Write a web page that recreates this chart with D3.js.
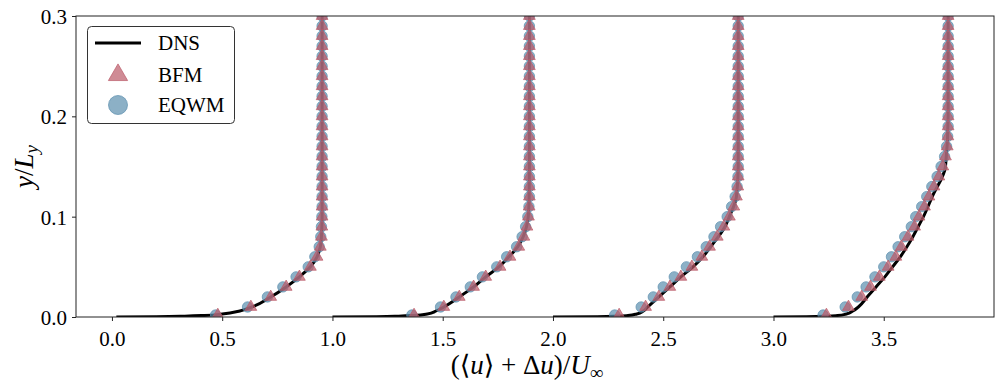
<!DOCTYPE html>
<html>
<head>
<meta charset="utf-8">
<script src="https://cdn.jsdelivr.net/npm/d3@7"></script>
<style>
  body { margin: 0; background: #fff; }
  svg text { font-family: "Liberation Serif", "DejaVu Serif", serif; fill: #000; }
</style>
</head>
<body>
<svg id="chart"></svg>
<script>
const width = 997;
const height = 386;

// x-axis ticks and labels
const xTicks = [0.0, 0.5, 1.0, 1.5, 2.0, 2.5, 3.0, 3.5];
const yTicks = [0.0, 0.1, 0.2, 0.3];

// wall-normal positions of DNS samples
const dnsY = [0, 0.0003, 0.0008, 0.0015, 0.003, 0.006, 0.01, 0.02, 0.03, 0.04, 0.05,
              0.06, 0.07, 0.08, 0.09, 0.10, 0.12, 0.15, 0.20, 0.25, 0.30];
// DNS profiles (already shifted by delta u = 0, 1, 2, 3)
const dns1 = [0.02, 0.20, 0.33, 0.42, 0.50, 0.58, 0.635, 0.72, 0.79, 0.85, 0.90,
              0.93, 0.945, 0.95, 0.952, 0.953, 0.953, 0.953, 0.953, 0.953, 0.953];
const dns2 = [1.00, 1.20, 1.30, 1.37, 1.43, 1.47, 1.505, 1.575, 1.64, 1.695, 1.755,
              1.80, 1.84, 1.865, 1.88, 1.888, 1.892, 1.893, 1.893, 1.893, 1.893];
const dns3 = [2.00, 2.20, 2.29, 2.34, 2.38, 2.41, 2.43, 2.48, 2.53, 2.58, 2.635,
              2.68, 2.715, 2.75, 2.78, 2.80, 2.832, 2.84, 2.84, 2.84, 2.84];
const dns4 = [3.00, 3.15, 3.24, 3.29, 3.33, 3.36, 3.385, 3.425, 3.465, 3.505, 3.54,
              3.575, 3.605, 3.632, 3.656, 3.68, 3.72, 3.78, 3.792, 3.792, 3.792];

// LES sample positions
const lesY = [0.002, 0.01, 0.02, 0.03, 0.04, 0.05, 0.06, 0.07, 0.08, 0.09, 0.10,
              0.11, 0.12, 0.13, 0.14, 0.15, 0.16, 0.17, 0.18, 0.19, 0.20,
              0.21, 0.22, 0.23, 0.24, 0.25, 0.26, 0.27, 0.28, 0.29, 0.30];

const bfm1 = [0.48, 0.63, 0.72, 0.79, 0.85, 0.90, 0.93, 0.945, 0.95, 0.952, 0.953,
              0.953, 0.953, 0.953, 0.953, 0.953, 0.953, 0.953, 0.953, 0.953, 0.953,
              0.953, 0.953, 0.953, 0.953, 0.953, 0.953, 0.953, 0.953, 0.953, 0.953];
const eqwm1 = [0.47, 0.615, 0.705, 0.775, 0.835, 0.89, 0.92, 0.94, 0.947, 0.95, 0.952,
               0.953, 0.953, 0.953, 0.953, 0.953, 0.953, 0.953, 0.953, 0.953, 0.953,
               0.953, 0.953, 0.953, 0.953, 0.953, 0.953, 0.953, 0.953, 0.953, 0.953];

const bfm2 = [1.37, 1.505, 1.575, 1.64, 1.695, 1.76, 1.805, 1.845, 1.868, 1.882, 1.889,
              1.892, 1.893, 1.893, 1.893, 1.893, 1.893, 1.893, 1.893, 1.893, 1.893,
              1.893, 1.893, 1.893, 1.893, 1.893, 1.893, 1.893, 1.893, 1.893, 1.893];
const eqwm2 = [1.36, 1.49, 1.56, 1.625, 1.68, 1.745, 1.79, 1.835, 1.86, 1.876, 1.886,
               1.891, 1.893, 1.893, 1.893, 1.893, 1.893, 1.893, 1.893, 1.893, 1.893,
               1.893, 1.893, 1.893, 1.893, 1.893, 1.893, 1.893, 1.893, 1.893, 1.893];

const bfm3 = [2.30, 2.42, 2.48, 2.53, 2.58, 2.63, 2.675, 2.71, 2.745, 2.775, 2.80,
              2.82, 2.832, 2.838, 2.84, 2.84, 2.84, 2.84, 2.84, 2.84, 2.84,
              2.84, 2.84, 2.84, 2.84, 2.84, 2.84, 2.84, 2.84, 2.84, 2.84];
const eqwm3 = [2.28, 2.40, 2.455, 2.50, 2.55, 2.605, 2.655, 2.695, 2.73, 2.76, 2.79,
               2.81, 2.826, 2.835, 2.839, 2.84, 2.84, 2.84, 2.84, 2.84, 2.84,
               2.84, 2.84, 2.84, 2.84, 2.84, 2.84, 2.84, 2.84, 2.84, 2.84];

const bfm4 = [3.24, 3.34, 3.40, 3.44, 3.48, 3.52, 3.555, 3.58, 3.61, 3.64, 3.66,
              3.685, 3.705, 3.728, 3.75, 3.768, 3.78, 3.788, 3.791, 3.792, 3.792,
              3.792, 3.792, 3.792, 3.792, 3.792, 3.792, 3.792, 3.792, 3.792, 3.792];
const eqwm4 = [3.225, 3.325, 3.38, 3.42, 3.46, 3.50, 3.535, 3.565, 3.595, 3.625, 3.645,
               3.672, 3.695, 3.718, 3.742, 3.76, 3.776, 3.785, 3.79, 3.792, 3.792,
               3.792, 3.792, 3.792, 3.792, 3.792, 3.792, 3.792, 3.792, 3.792, 3.792];

const dnsProfiles = [dns1, dns2, dns3, dns4];
const bfmProfiles = [bfm1, bfm2, bfm3, bfm4];
const eqwmProfiles = [eqwm1, eqwm2, eqwm3, eqwm4];

const bfmColor = '#bb5a68';
const eqwmColor = '#5b8fae';
const serif = '"Liberation Serif", "DejaVu Serif", serif';

const plot = {left: 76, right: 994, top: 16, bottom: 317};

const svg = d3.select('#chart')
    .attr('width', width)
    .attr('height', height);

const x = d3.scaleLinear().domain([-0.163, 4.0]).range([plot.left, plot.right]);
const y = d3.scaleLinear().domain([0, 0.3]).range([plot.bottom, plot.top]);

svg.append('defs').append('clipPath').attr('id', 'clip')
  .append('rect')
    .attr('x', plot.left).attr('y', plot.top)
    .attr('width', plot.right - plot.left).attr('height', plot.bottom - plot.top);

const area = svg.append('g').attr('clip-path', 'url(#clip)');

const line = d3.line()
    .x(d => x(d[0]))
    .y(d => y(d[1]))
    .curve(d3.curveMonotoneY);

dnsProfiles.forEach(p => {
    area.append('path')
        .datum(p.map((u, i) => [u, dnsY[i]]))
        .attr('fill', 'none')
        .attr('stroke', '#000')
        .attr('stroke-width', 3)
        .attr('d', line);
});

const tri = d3.symbol().type(d3.symbolTriangle).size(60);

eqwmProfiles.forEach(p => {
    area.append('g').selectAll('circle')
        .data(p.map((u, i) => [u, lesY[i]]))
        .join('circle')
            .attr('cx', d => x(d[0]))
            .attr('cy', d => y(d[1]))
            .attr('r', 5.2)
            .attr('fill', eqwmColor)
            .attr('fill-opacity', 0.7)
            .attr('stroke', eqwmColor)
            .attr('stroke-opacity', 0.7)
            .attr('stroke-width', 1);
});

bfmProfiles.forEach(p => {
    area.append('g').selectAll('path')
        .data(p.map((u, i) => [u, lesY[i]]))
        .join('path')
            .attr('transform', d => `translate(${x(d[0])},${y(d[1])})`)
            .attr('d', tri)
            .attr('fill', bfmColor)
            .attr('fill-opacity', 0.7)
            .attr('stroke', bfmColor)
            .attr('stroke-opacity', 0.7)
            .attr('stroke-width', 1);
});

// frame
svg.append('rect')
    .attr('x', plot.left).attr('y', plot.top)
    .attr('width', plot.right - plot.left).attr('height', plot.bottom - plot.top)
    .attr('fill', 'none').attr('stroke', '#222').attr('stroke-width', 1);

const xAxis = svg.append('g').attr('transform', `translate(0,${plot.bottom})`)
    .call(d3.axisBottom(x).tickValues(xTicks).tickFormat(d3.format('.1f')).tickSize(4).tickPadding(6));
const yAxis = svg.append('g').attr('transform', `translate(${plot.left},0)`)
    .call(d3.axisLeft(y).tickValues(yTicks).tickFormat(d3.format('.1f')).tickSize(4).tickPadding(5));

[xAxis, yAxis].forEach(a => {
    a.attr('font-family', serif).attr('font-size', 21);
    a.select('.domain').remove();
    a.selectAll('.tick line').attr('stroke', '#222');
    a.selectAll('.tick text')
        .attr('font-family', serif)
        .style('font-family', serif)
        .style('font-size', '21px');
});
xAxis.selectAll('.tick text').attr('dy', '0.9em');
yAxis.selectAll('.tick text').attr('dy', '0.35em');

// axis titles
const xl = svg.append('text')
    .attr('x', (plot.left + plot.right) / 2 - 8)
    .attr('y', 374)
    .attr('text-anchor', 'middle')
    .style('font-size', '27px');
xl.append('tspan').text('(⟨');
xl.append('tspan').style('font-style', 'italic').text('u');
xl.append('tspan').text('⟩ + Δ');
xl.append('tspan').style('font-style', 'italic').text('u');
xl.append('tspan').text(')/');
xl.append('tspan').style('font-style', 'italic').text('U');
xl.append('tspan').attr('dy', 5).style('font-size', '19px').text('∞');

const yl = svg.append('text')
    .attr('transform', `translate(33,${(plot.top + plot.bottom) / 2}) rotate(-90)`)
    .attr('text-anchor', 'middle')
    .style('font-size', '27px');
yl.append('tspan').style('font-style', 'italic').text('y');
yl.append('tspan').text('/');
yl.append('tspan').style('font-style', 'italic').text('L');
yl.append('tspan').attr('dy', 5).style('font-style', 'italic').style('font-size', '19px').text('y');

// legend
const legend = svg.append('g');
legend.append('rect')
    .attr('x', 87.5).attr('y', 26.5).attr('width', 147).attr('height', 97)
    .attr('rx', 4)
    .attr('fill', '#fff').attr('fill-opacity', 0.8)
    .attr('stroke', '#333').attr('stroke-width', 1);

const legendItems = ['DNS', 'BFM', 'EQWM'];
const legendY = [43, 75, 105];

legend.append('line')
    .attr('x1', 95).attr('x2', 141).attr('y1', legendY[0]).attr('y2', legendY[0])
    .attr('stroke', '#000').attr('stroke-width', 3);
legend.append('path')
    .attr('transform', `translate(118,${legendY[1]})`)
    .attr('d', d3.symbol().type(d3.symbolTriangle).size(160))
    .attr('fill', bfmColor).attr('fill-opacity', 0.7)
    .attr('stroke', bfmColor).attr('stroke-opacity', 0.7);
legend.append('circle')
    .attr('cx', 118).attr('cy', legendY[2]).attr('r', 9.5)
    .attr('fill', eqwmColor).attr('fill-opacity', 0.7)
    .attr('stroke', eqwmColor).attr('stroke-opacity', 0.7);

legend.selectAll('text.item')
    .data(legendItems)
    .join('text')
        .attr('class', 'item')
        .attr('x', 158)
        .attr('y', (d, i) => legendY[i] + 7)
        .style('font-size', '21px')
        .text(d => d);
</script>
</body>
</html>
